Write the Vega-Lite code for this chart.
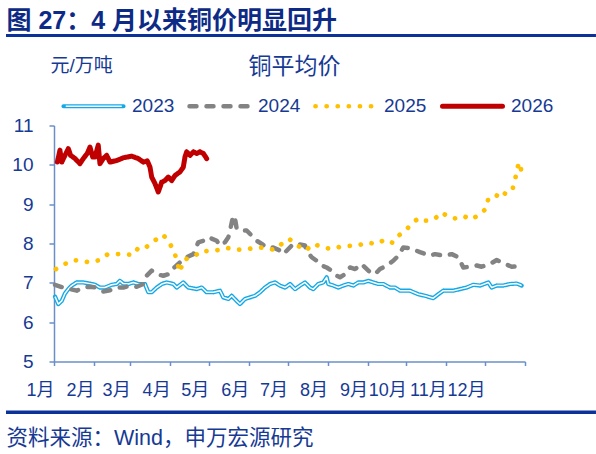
{
  "$schema": "https://vega.github.io/schema/vega-lite/v6.json",
  "width": 471,
  "height": 236,
  "autosize": {"type": "none"},
  "padding": {"left": 54, "top": 125.5, "right": 71, "bottom": 92.5},
  "background": "white",
  "config": {
    "view": {"stroke": null},
    "font": "Liberation Sans, Noto Sans CJK SC",
    "axis": {"grid": false, "labelFont": "Liberation Sans, Noto Sans CJK SC", "titleFont": "Liberation Sans, Noto Sans CJK SC"},
    "legend": {"labelFont": "Liberation Sans, Noto Sans CJK SC"}
  },
  "datasets": {
    "price": [
      {"year": "2023", "d": 0.8, "v": 6.65}, {"year": "2023", "d": 3.3, "v": 6.46}, {"year": "2023", "d": 6.0, "v": 6.54}, {"year": "2023", "d": 8.5, "v": 6.73}, {"year": "2023", "d": 11.1, "v": 6.84}, {"year": "2023", "d": 13.7, "v": 6.93}, {"year": "2023", "d": 17.6, "v": 7.01}, {"year": "2023", "d": 22.7, "v": 7.01}, {"year": "2023", "d": 27.9, "v": 6.98}, {"year": "2023", "d": 31.8, "v": 6.95}, {"year": "2023", "d": 35.6, "v": 6.88}, {"year": "2023", "d": 39.5, "v": 6.88}, {"year": "2023", "d": 44.7, "v": 6.95}, {"year": "2023", "d": 48.6, "v": 6.97}, {"year": "2023", "d": 51.1, "v": 7.05}, {"year": "2023", "d": 53.7, "v": 6.98}, {"year": "2023", "d": 57.6, "v": 6.97}, {"year": "2023", "d": 61.5, "v": 7.01}, {"year": "2023", "d": 65.3, "v": 6.97}, {"year": "2023", "d": 70.5, "v": 6.97}, {"year": "2023", "d": 73.1, "v": 6.76}, {"year": "2023", "d": 75.7, "v": 6.76}, {"year": "2023", "d": 79.6, "v": 6.88}, {"year": "2023", "d": 83.5, "v": 6.97}, {"year": "2023", "d": 87.3, "v": 7.01}, {"year": "2023", "d": 92.5, "v": 6.97}, {"year": "2023", "d": 95.1, "v": 6.88}, {"year": "2023", "d": 100.2, "v": 7.01}, {"year": "2023", "d": 104.1, "v": 6.88}, {"year": "2023", "d": 110.6, "v": 6.84}, {"year": "2023", "d": 114.5, "v": 6.88}, {"year": "2023", "d": 118.3, "v": 6.76}, {"year": "2023", "d": 123.5, "v": 6.76}, {"year": "2023", "d": 128.6, "v": 6.8}, {"year": "2023", "d": 131.2, "v": 6.63}, {"year": "2023", "d": 135.1, "v": 6.59}, {"year": "2023", "d": 137.7, "v": 6.67}, {"year": "2023", "d": 141.6, "v": 6.54}, {"year": "2023", "d": 144.1, "v": 6.46}, {"year": "2023", "d": 148.0, "v": 6.59}, {"year": "2023", "d": 151.9, "v": 6.63}, {"year": "2023", "d": 155.8, "v": 6.67}, {"year": "2023", "d": 159.6, "v": 6.76}, {"year": "2023", "d": 163.5, "v": 6.88}, {"year": "2023", "d": 167.4, "v": 6.97}, {"year": "2023", "d": 171.3, "v": 7.01}, {"year": "2023", "d": 175.1, "v": 6.93}, {"year": "2023", "d": 179.0, "v": 6.88}, {"year": "2023", "d": 182.9, "v": 6.97}, {"year": "2023", "d": 186.8, "v": 6.84}, {"year": "2023", "d": 190.6, "v": 6.93}, {"year": "2023", "d": 194.5, "v": 7.01}, {"year": "2023", "d": 198.4, "v": 6.88}, {"year": "2023", "d": 200.9, "v": 6.84}, {"year": "2023", "d": 204.8, "v": 6.97}, {"year": "2023", "d": 208.7, "v": 7.01}, {"year": "2023", "d": 211.3, "v": 7.14}, {"year": "2023", "d": 212.6, "v": 6.97}, {"year": "2023", "d": 216.5, "v": 6.93}, {"year": "2023", "d": 220.3, "v": 6.88}, {"year": "2023", "d": 224.2, "v": 6.93}, {"year": "2023", "d": 228.1, "v": 6.97}, {"year": "2023", "d": 232.0, "v": 6.93}, {"year": "2023", "d": 235.8, "v": 7.01}, {"year": "2023", "d": 239.7, "v": 7.01}, {"year": "2023", "d": 243.6, "v": 7.05}, {"year": "2023", "d": 247.4, "v": 7.01}, {"year": "2023", "d": 251.3, "v": 6.97}, {"year": "2023", "d": 255.2, "v": 6.97}, {"year": "2023", "d": 260.4, "v": 6.88}, {"year": "2023", "d": 264.3, "v": 6.88}, {"year": "2023", "d": 268.1, "v": 6.8}, {"year": "2023", "d": 275.9, "v": 6.8}, {"year": "2023", "d": 282.3, "v": 6.71}, {"year": "2023", "d": 287.5, "v": 6.67}, {"year": "2023", "d": 293.9, "v": 6.61}, {"year": "2023", "d": 297.8, "v": 6.71}, {"year": "2023", "d": 301.7, "v": 6.8}, {"year": "2023", "d": 309.4, "v": 6.8}, {"year": "2023", "d": 314.6, "v": 6.84}, {"year": "2023", "d": 319.8, "v": 6.88}, {"year": "2023", "d": 324.9, "v": 6.95}, {"year": "2023", "d": 330.1, "v": 6.93}, {"year": "2023", "d": 336.6, "v": 7.01}, {"year": "2023", "d": 339.2, "v": 6.88}, {"year": "2023", "d": 343.1, "v": 6.93}, {"year": "2023", "d": 348.2, "v": 6.93}, {"year": "2023", "d": 353.4, "v": 6.97}, {"year": "2023", "d": 358.6, "v": 6.98}, {"year": "2023", "d": 361.1, "v": 6.95}, {"year": "2023", "d": 362.4, "v": 6.93},

      {"year": "2024", "d": 0.8, "v": 6.95}, {"year": "2024", "d": 7.2, "v": 6.88}, {"year": "2024", "d": 12.4, "v": 6.84}, {"year": "2024", "d": 17.6, "v": 6.8}, {"year": "2024", "d": 22.7, "v": 6.88}, {"year": "2024", "d": 27.9, "v": 6.9}, {"year": "2024", "d": 33.1, "v": 6.88}, {"year": "2024", "d": 38.2, "v": 6.78}, {"year": "2024", "d": 43.4, "v": 6.81}, {"year": "2024", "d": 48.6, "v": 6.88}, {"year": "2024", "d": 53.7, "v": 6.88}, {"year": "2024", "d": 58.9, "v": 6.93}, {"year": "2024", "d": 64.1, "v": 6.9}, {"year": "2024", "d": 69.2, "v": 6.97}, {"year": "2024", "d": 71.8, "v": 7.18}, {"year": "2024", "d": 75.7, "v": 7.31}, {"year": "2024", "d": 79.6, "v": 7.22}, {"year": "2024", "d": 84.7, "v": 7.18}, {"year": "2024", "d": 88.6, "v": 7.22}, {"year": "2024", "d": 92.5, "v": 7.37}, {"year": "2024", "d": 97.6, "v": 7.52}, {"year": "2024", "d": 102.8, "v": 7.65}, {"year": "2024", "d": 108.0, "v": 7.73}, {"year": "2024", "d": 111.8, "v": 8.03}, {"year": "2024", "d": 115.7, "v": 8.07}, {"year": "2024", "d": 119.6, "v": 8.16}, {"year": "2024", "d": 126.1, "v": 8.07}, {"year": "2024", "d": 128.6, "v": 7.95}, {"year": "2024", "d": 132.5, "v": 8.03}, {"year": "2024", "d": 135.1, "v": 8.16}, {"year": "2024", "d": 136.4, "v": 8.33}, {"year": "2024", "d": 138.9, "v": 8.71}, {"year": "2024", "d": 140.3, "v": 8.63}, {"year": "2024", "d": 141.6, "v": 8.37}, {"year": "2024", "d": 145.5, "v": 8.33}, {"year": "2024", "d": 149.3, "v": 8.33}, {"year": "2024", "d": 153.2, "v": 8.2}, {"year": "2024", "d": 157.1, "v": 8.07}, {"year": "2024", "d": 161.0, "v": 7.99}, {"year": "2024", "d": 164.8, "v": 7.9}, {"year": "2024", "d": 169.9, "v": 7.9}, {"year": "2024", "d": 175.1, "v": 7.82}, {"year": "2024", "d": 177.7, "v": 7.73}, {"year": "2024", "d": 181.6, "v": 7.86}, {"year": "2024", "d": 185.4, "v": 7.99}, {"year": "2024", "d": 188.1, "v": 7.99}, {"year": "2024", "d": 194.5, "v": 7.95}, {"year": "2024", "d": 195.8, "v": 7.82}, {"year": "2024", "d": 199.7, "v": 7.65}, {"year": "2024", "d": 203.6, "v": 7.56}, {"year": "2024", "d": 207.5, "v": 7.44}, {"year": "2024", "d": 211.3, "v": 7.39}, {"year": "2024", "d": 215.2, "v": 7.31}, {"year": "2024", "d": 219.1, "v": 7.18}, {"year": "2024", "d": 221.6, "v": 7.14}, {"year": "2024", "d": 225.5, "v": 7.22}, {"year": "2024", "d": 229.4, "v": 7.39}, {"year": "2024", "d": 233.3, "v": 7.35}, {"year": "2024", "d": 238.5, "v": 7.48}, {"year": "2024", "d": 241.0, "v": 7.39}, {"year": "2024", "d": 244.9, "v": 7.27}, {"year": "2024", "d": 248.8, "v": 7.22}, {"year": "2024", "d": 252.6, "v": 7.35}, {"year": "2024", "d": 257.8, "v": 7.44}, {"year": "2024", "d": 262.9, "v": 7.56}, {"year": "2024", "d": 266.8, "v": 7.69}, {"year": "2024", "d": 270.7, "v": 7.9}, {"year": "2024", "d": 275.9, "v": 7.88}, {"year": "2024", "d": 283.6, "v": 7.78}, {"year": "2024", "d": 291.4, "v": 7.69}, {"year": "2024", "d": 295.3, "v": 7.73}, {"year": "2024", "d": 301.7, "v": 7.69}, {"year": "2024", "d": 308.2, "v": 7.73}, {"year": "2024", "d": 313.3, "v": 7.65}, {"year": "2024", "d": 317.2, "v": 7.39}, {"year": "2024", "d": 322.4, "v": 7.41}, {"year": "2024", "d": 327.6, "v": 7.44}, {"year": "2024", "d": 331.4, "v": 7.41}, {"year": "2024", "d": 337.9, "v": 7.48}, {"year": "2024", "d": 343.1, "v": 7.58}, {"year": "2024", "d": 349.5, "v": 7.48}, {"year": "2024", "d": 354.7, "v": 7.41}, {"year": "2024", "d": 362.4, "v": 7.43},

      {"year": "2025", "d": 1.5, "v": 7.35}, {"year": "2025", "d": 8.5, "v": 7.48}, {"year": "2025", "d": 15.0, "v": 7.58}, {"year": "2025", "d": 20.7, "v": 7.56}, {"year": "2025", "d": 27.9, "v": 7.52}, {"year": "2025", "d": 35.6, "v": 7.58}, {"year": "2025", "d": 41.3, "v": 7.72}, {"year": "2025", "d": 47.3, "v": 7.73}, {"year": "2025", "d": 53.2, "v": 7.73}, {"year": "2025", "d": 61.5, "v": 7.71}, {"year": "2025", "d": 65.3, "v": 7.89}, {"year": "2025", "d": 70.5, "v": 7.88}, {"year": "2025", "d": 75.7, "v": 8.02}, {"year": "2025", "d": 80.8, "v": 8.14}, {"year": "2025", "d": 84.7, "v": 8.22}, {"year": "2025", "d": 89.4, "v": 8.01}, {"year": "2025", "d": 93.0, "v": 7.82}, {"year": "2025", "d": 95.1, "v": 7.56}, {"year": "2025", "d": 97.6, "v": 7.27}, {"year": "2025", "d": 100.2, "v": 7.58}, {"year": "2025", "d": 102.8, "v": 7.61}, {"year": "2025", "d": 109.3, "v": 7.69}, {"year": "2025", "d": 114.5, "v": 7.82}, {"year": "2025", "d": 120.4, "v": 7.8}, {"year": "2025", "d": 128.1, "v": 7.84}, {"year": "2025", "d": 133.8, "v": 7.89}, {"year": "2025", "d": 140.8, "v": 7.84}, {"year": "2025", "d": 148.6, "v": 7.85}, {"year": "2025", "d": 155.8, "v": 7.89}, {"year": "2025", "d": 163.0, "v": 7.9}, {"year": "2025", "d": 170.5, "v": 7.84}, {"year": "2025", "d": 176.5, "v": 7.99}, {"year": "2025", "d": 182.1, "v": 8.12}, {"year": "2025", "d": 188.5, "v": 7.95}, {"year": "2025", "d": 195.1, "v": 7.82}, {"year": "2025", "d": 200.9, "v": 7.99}, {"year": "2025", "d": 208.7, "v": 7.9}, {"year": "2025", "d": 215.2, "v": 7.86}, {"year": "2025", "d": 222.2, "v": 7.92}, {"year": "2025", "d": 229.4, "v": 7.94}, {"year": "2025", "d": 236.4, "v": 7.96}, {"year": "2025", "d": 242.8, "v": 8.02}, {"year": "2025", "d": 250.1, "v": 7.99}, {"year": "2025", "d": 256.5, "v": 8.1}, {"year": "2025", "d": 262.2, "v": 8.02}, {"year": "2025", "d": 266.0, "v": 8.18}, {"year": "2025", "d": 271.5, "v": 8.3}, {"year": "2025", "d": 277.2, "v": 8.5}, {"year": "2025", "d": 282.3, "v": 8.64}, {"year": "2025", "d": 286.2, "v": 8.58}, {"year": "2025", "d": 291.4, "v": 8.58}, {"year": "2025", "d": 295.8, "v": 8.65}, {"year": "2025", "d": 300.4, "v": 8.79}, {"year": "2025", "d": 306.1, "v": 8.67}, {"year": "2025", "d": 310.8, "v": 8.64}, {"year": "2025", "d": 317.2, "v": 8.7}, {"year": "2025", "d": 323.2, "v": 8.61}, {"year": "2025", "d": 330.1, "v": 8.74}, {"year": "2025", "d": 334.6, "v": 8.88}, {"year": "2025", "d": 336.6, "v": 9.14}, {"year": "2025", "d": 342.5, "v": 9.18}, {"year": "2025", "d": 345.1, "v": 9.33}, {"year": "2025", "d": 350.8, "v": 9.25}, {"year": "2025", "d": 355.5, "v": 9.4}, {"year": "2025", "d": 357.5, "v": 9.65}, {"year": "2025", "d": 359.0, "v": 9.93}, {"year": "2025", "d": 361.1, "v": 10.06}, {"year": "2025", "d": 362.4, "v": 9.78},

      {"year": "2026", "d": 2.6, "v": 10.07}, {"year": "2026", "d": 4.6, "v": 10.37}, {"year": "2026", "d": 6.0, "v": 10.07}, {"year": "2026", "d": 8.5, "v": 10.24}, {"year": "2026", "d": 11.1, "v": 10.41}, {"year": "2026", "d": 12.9, "v": 10.24}, {"year": "2026", "d": 16.3, "v": 10.16}, {"year": "2026", "d": 20.1, "v": 10.03}, {"year": "2026", "d": 22.7, "v": 10.16}, {"year": "2026", "d": 25.8, "v": 10.29}, {"year": "2026", "d": 27.9, "v": 10.45}, {"year": "2026", "d": 30.0, "v": 10.2}, {"year": "2026", "d": 31.8, "v": 10.2}, {"year": "2026", "d": 34.3, "v": 10.5}, {"year": "2026", "d": 35.6, "v": 10.03}, {"year": "2026", "d": 38.2, "v": 10.16}, {"year": "2026", "d": 40.8, "v": 10.24}, {"year": "2026", "d": 43.4, "v": 10.07}, {"year": "2026", "d": 48.6, "v": 10.11}, {"year": "2026", "d": 53.7, "v": 10.18}, {"year": "2026", "d": 60.2, "v": 10.22}, {"year": "2026", "d": 65.3, "v": 10.16}, {"year": "2026", "d": 69.2, "v": 10.07}, {"year": "2026", "d": 72.3, "v": 10.1}, {"year": "2026", "d": 74.4, "v": 9.94}, {"year": "2026", "d": 75.7, "v": 9.69}, {"year": "2026", "d": 78.3, "v": 9.52}, {"year": "2026", "d": 80.8, "v": 9.31}, {"year": "2026", "d": 83.5, "v": 9.56}, {"year": "2026", "d": 86.0, "v": 9.6}, {"year": "2026", "d": 88.6, "v": 9.69}, {"year": "2026", "d": 91.2, "v": 9.6}, {"year": "2026", "d": 93.8, "v": 9.73}, {"year": "2026", "d": 97.6, "v": 9.82}, {"year": "2026", "d": 100.2, "v": 9.94}, {"year": "2026", "d": 101.5, "v": 10.2}, {"year": "2026", "d": 102.8, "v": 10.33}, {"year": "2026", "d": 105.4, "v": 10.24}, {"year": "2026", "d": 108.0, "v": 10.33}, {"year": "2026", "d": 110.6, "v": 10.29}, {"year": "2026", "d": 113.1, "v": 10.33}, {"year": "2026", "d": 115.7, "v": 10.29}, {"year": "2026", "d": 118.3, "v": 10.16}
    ]
  },
  "resolve": {"axis": {"x": "independent", "y": "independent"}},
  "layer": [
    {
      "data": {"name": "price"},
      "transform": [{"filter": "datum.year == '2023'"}],
      "mark": {"type": "line", "strokeCap": "round", "strokeJoin": "round"},
      "encoding": {
        "x": {"field": "d", "type": "quantitative", "scale": {"domain": [0, 365], "nice": false, "zero": false},
          "axis": {
            "title": "资料来源：Wind，申万宏源研究", "titleX": -48, "titleY": 76.5, "titleAlign": "left", "titleBaseline": "middle",
            "titleFontSize": 21.5, "titleFontWeight": "normal", "titleColor": "#163A94",
            "values": [0, 31, 59, 90, 120, 151, 181, 212, 243, 273, 304, 334, 365],
            "labelExpr": "indexof([0,31,59,90,120,151,181,212,243,273,304,334], datum.value) >= 0 ? (indexof([0,31,59,90,120,151,181,212,243,273,304,334], datum.value) + 1) + '月' : ''",
            "labelAlign": "right", "labelBaseline": "middle", "labelPadding": 25, "labelFontSize": 18, "labelColor": "#163A94",
            "labelOverlap": false, "labelFlush": false, "labelBound": false,
            "tickSize": 4, "tickWidth": 1.5, "tickColor": "#6A8FC8", "domainColor": "#6A8FC8", "domainWidth": 1.5, "grid": false
          }},
        "y": {"field": "v", "type": "quantitative", "scale": {"domain": [5, 11], "nice": false, "zero": false},
          "axis": {
            "title": "元/万吨", "titleAngle": 0, "titleAlign": "left", "titleBaseline": "middle", "titleX": -4, "titleY": -60.5,
            "titleFontSize": 19, "titleFontWeight": "normal", "titleColor": "#163A94",
            "values": [5, 6, 7, 8, 9, 10, 11], "labelFontSize": 19, "labelColor": "#163A94", "labelPadding": 16,
            "tickSize": 5, "tickWidth": 1.5, "tickColor": "#6A8FC8", "domainColor": "#6A8FC8", "domainWidth": 1.5, "grid": false
          }},
        "color": {"field": "year", "type": "nominal",
          "scale": {"domain": ["2023", "2024", "2025", "2026"], "range": ["#14A9E6", "#838383", "#FFC000", "#C00000"]},
          "legend": {
            "title": null, "orient": "none", "direction": "horizontal", "legendX": 7, "legendY": -52, "padding": 0,
            "columnPadding": 5, "labelOffset": 6, "labelFontSize": 19, "labelColor": "#163A94",
            "symbolType": "stroke", "symbolSize": 3600, "symbolStrokeWidth": 5,
            "encode": {"symbols": {"update": {"strokeCap": {"value": "round"}}}}
          }},
        "strokeDash": {"field": "year", "type": "nominal",
          "scale": {"domain": ["2023", "2024", "2025", "2026"], "range": [[1, 0], [7, 10], [0.1, 11], [1, 0]]}},
        "strokeWidth": {"field": "year", "type": "nominal",
          "scale": {"domain": ["2023", "2024", "2025", "2026"], "range": [4.2, 5, 5, 5]}, "legend": null}
      }
    },
    {
      "data": {"name": "price"},
      "transform": [{"filter": "datum.year == '2023'"}],
      "mark": {"type": "line", "strokeWidth": 1.5, "strokeCap": "butt", "strokeJoin": "round"},
      "encoding": {
        "x": {"field": "d", "type": "quantitative", "scale": {"domain": [0, 365], "nice": false, "zero": false}, "axis": null},
        "y": {"field": "v", "type": "quantitative", "scale": {"domain": [5, 11], "nice": false, "zero": false}, "axis": null},
        "stroke": {"field": "year", "type": "nominal",
          "scale": {"domain": ["2023"], "range": ["white"]},
          "legend": {
            "title": null, "orient": "none", "direction": "horizontal", "legendX": 10.75, "legendY": -48.25, "padding": 0,
            "labelOffset": 8, "labelFontSize": 19, "labelColor": "transparent",
            "symbolType": "stroke", "symbolSize": 3136, "symbolStrokeWidth": 1.5
          }}
      }
    },
    {
      "data": {"name": "price"},
      "transform": [{"filter": "datum.year != '2023'"}],
      "mark": {"type": "line", "strokeCap": "round", "strokeJoin": "round"},
      "encoding": {
        "x": {"field": "d", "type": "quantitative", "scale": {"domain": [0, 365], "nice": false, "zero": false}, "axis": null},
        "y": {"field": "v", "type": "quantitative", "scale": {"domain": [5, 11], "nice": false, "zero": false}, "axis": null},
        "color": {"field": "year", "type": "nominal", "scale": {"domain": ["2023", "2024", "2025", "2026"], "range": ["#14A9E6", "#838383", "#FFC000", "#C00000"]}},
        "strokeDash": {"field": "year", "type": "nominal", "scale": {"domain": ["2023", "2024", "2025", "2026"], "range": [[1, 0], [7, 10], [0.1, 11], [1, 0]]}},
        "strokeWidth": {"field": "year", "type": "nominal", "scale": {"domain": ["2023", "2024", "2025", "2026"], "range": [4.2, 5, 5, 5]}, "legend": null}
      }
    },
    {
      "data": {"values": [{}]},
      "mark": {"type": "rule", "color": "#0C3199", "strokeWidth": 3},
      "encoding": {
        "x": {"datum": -37.2, "type": "quantitative", "scale": {"domain": [0, 365], "nice": false, "zero": false},
          "axis": {"orient": "top", "title": "图 27：4 月以来铜价明显回升", "titleX": -48, "titleY": -105.5, "titleAlign": "left", "titleBaseline": "middle",
            "titleFontSize": 25, "titleFontWeight": "bold", "titleColor": "#0D2B86", "domain": false, "ticks": false, "labels": false, "grid": false}},
        "x2": {"datum": 420},
        "y": {"datum": 13.29, "type": "quantitative", "scale": {"domain": [5, 11], "nice": false, "zero": false},
          "axis": {"orient": "right", "title": "铜平均价", "titleX": -231, "titleY": -59.5, "titleAngle": 0, "titleAlign": "center", "titleBaseline": "middle",
            "titleFontSize": 23, "titleFontWeight": "normal", "titleColor": "#163A94", "domain": false, "ticks": false, "labels": false, "grid": false}}
      }
    },
    {
      "data": {"values": [{}]},
      "mark": {"type": "rule", "color": "#0C3199", "strokeWidth": 3.5},
      "encoding": {
        "x": {"datum": -37.2, "type": "quantitative", "scale": {"domain": [0, 365], "nice": false, "zero": false}, "axis": null},
        "x2": {"datum": 420},
        "y": {"datum": 3.71, "type": "quantitative", "scale": {"domain": [5, 11], "nice": false, "zero": false}, "axis": null}
      }
    }
  ]
}
